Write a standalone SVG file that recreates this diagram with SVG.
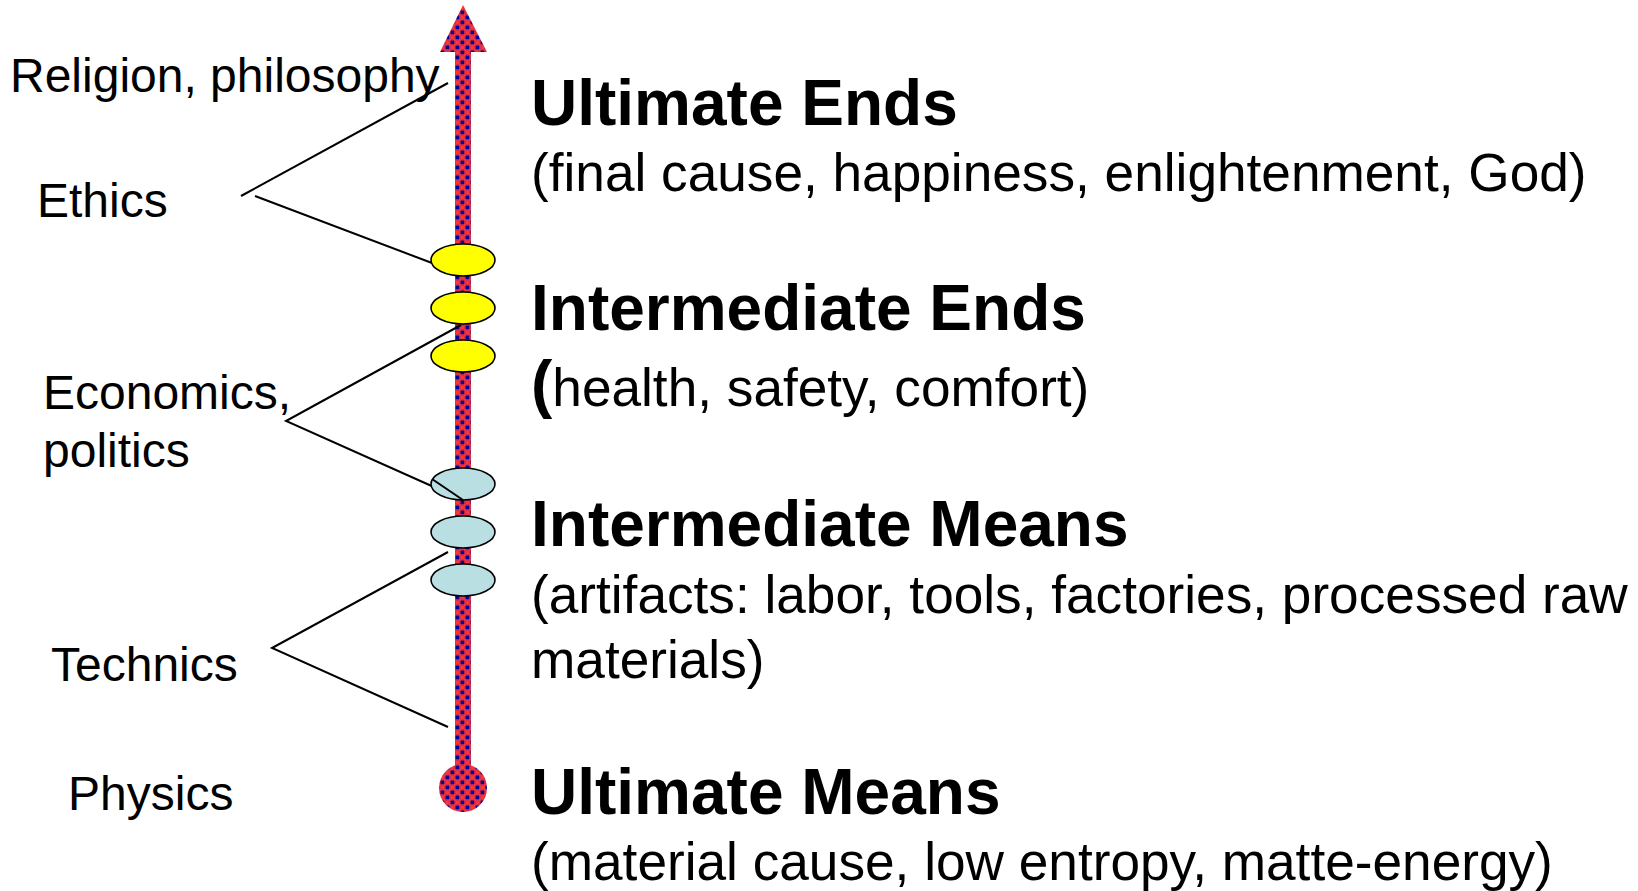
<svg xmlns="http://www.w3.org/2000/svg" width="1638" height="891" viewBox="0 0 1638 891">
  <style>
    .lbl { font-family: "Liberation Sans", Arial, sans-serif; font-size: 48px; fill: #000; }
    .head { font-family: "Liberation Sans", Arial, sans-serif; font-size: 64px; font-weight: bold; fill: #000; }
    .sub { font-family: "Liberation Sans", Arial, sans-serif; font-size: 53.2px; fill: #000; }
    .conn { stroke: #000; stroke-width: 2; fill: none; }
    .yel { fill: #FFFF00; stroke: #000; stroke-width: 1.6; }
    .blu { fill: #B9DFE3; stroke: #000; stroke-width: 1.6; }
  </style>
  <defs>
    <pattern id="chk" width="10" height="10" patternUnits="userSpaceOnUse">
      <rect width="10" height="10" fill="#FF3535"/>
      <rect x="0.5" y="0.5" width="3.8" height="3.8" fill="#0A0094"/>
      <rect x="5.5" y="5.5" width="3.8" height="3.8" fill="#0A0094"/>
      <circle cx="7.4" cy="2.6" r="2.2" fill="#FF3535" stroke="#8A2060" stroke-width="0.4"/>
      <circle cx="2.4" cy="7.5" r="2.2" fill="#FF3535" stroke="#8A2060" stroke-width="0.4"/>
    </pattern>
  </defs>
  <rect width="1638" height="891" fill="#FFFFFF"/>

  <g id="axis">
    <rect x="455" y="50" width="16" height="722" fill="url(#chk)"/>
    <polygon points="463,5 487,52 440,52" fill="url(#chk)"/>
    <circle cx="463" cy="788" r="24" fill="url(#chk)"/>
  </g>

  <g id="connectors">
    <polyline class="conn" points="448,83 241,196"/>
    <polyline class="conn" points="255,196 432,263"/>
    <polyline class="conn" points="461,325 286,421 463,500"/>
    <polyline class="conn" points="448,552 272,648 448,727"/>
  </g>

  <g id="node-end-1"><ellipse class="yel" cx="463" cy="260" rx="32" ry="16"/></g>
  <g id="node-end-2"><ellipse class="yel" cx="463" cy="308" rx="32" ry="16"/></g>
  <g id="node-end-3"><ellipse class="yel" cx="463" cy="356" rx="32" ry="16"/></g>
  <g id="node-means-1"><ellipse class="blu" cx="463" cy="484" rx="32" ry="16"/></g>
  <g id="node-means-2"><ellipse class="blu" cx="463" cy="532" rx="32" ry="16"/></g>
  <g id="node-means-3"><ellipse class="blu" cx="463" cy="580" rx="32" ry="16"/></g>
  <polyline class="conn" points="432,479 463,500" />

  <g id="label-religion"><text class="lbl" x="10" y="92">Religion, philosophy</text></g>
  <g id="label-ethics"><text class="lbl" x="37" y="217">Ethics</text></g>
  <g id="label-economics"><text class="lbl" x="43" y="409">Economics,</text><text class="lbl" x="43" y="467">politics</text></g>
  <g id="label-technics"><text class="lbl" x="51" y="681">Technics</text></g>
  <g id="label-physics"><text class="lbl" x="68" y="810">Physics</text></g>

  <g id="ultimate-ends">
    <text class="head" x="531" y="125">Ultimate Ends</text>
    <text class="sub" x="531" y="191">(final cause, happiness, enlightenment, God)</text>
  </g>
  <g id="intermediate-ends">
    <text class="head" x="531" y="330">Intermediate Ends</text>
    <text class="sub" x="531" y="406"><tspan font-weight="bold" font-size="64">(</tspan>health, safety, comfort)</text>
  </g>
  <g id="intermediate-means">
    <text class="head" x="531" y="546">Intermediate Means</text>
    <text class="sub" x="531" y="613">(artifacts: labor, tools, factories, processed raw</text>
    <text class="sub" x="531" y="678">materials)</text>
  </g>
  <g id="ultimate-means">
    <text class="head" x="531" y="814">Ultimate Means</text>
    <text class="sub" x="531" y="880">(material cause, low entropy, matte-energy)</text>
  </g>
</svg>
